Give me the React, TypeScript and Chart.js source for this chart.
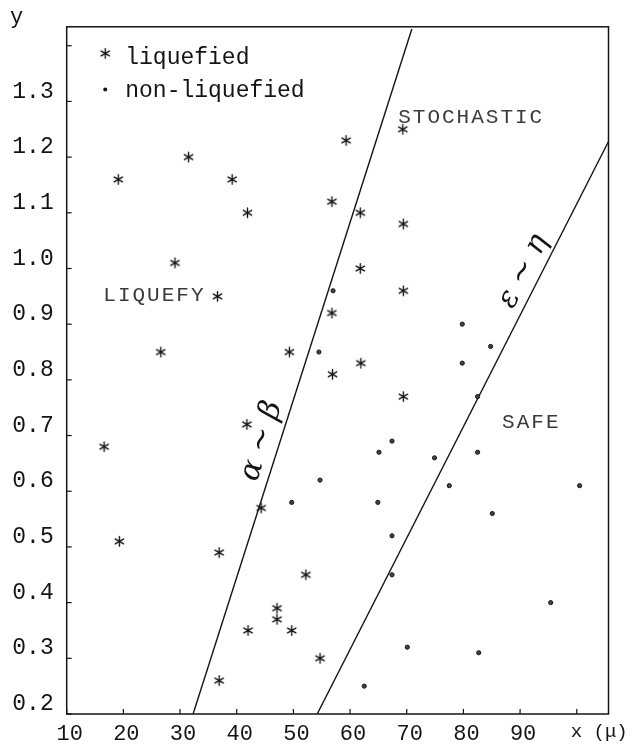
import React, { useEffect, useRef } from "react";
import { Chart, registerables } from "chart.js";
Chart.register(...registerables);

// ---- data ----
const liquefiedX = [16.6, 19.1, 19.3, 26.6, 29.1, 31.5, 36.6, 36.9, 36.9, 39.2, 41.9, 41.8, 42.0, 44.3, 47.1, 47.1, 49.3, 49.7, 52.2, 54.7, 56.8, 56.8, 56.9, 59.3, 61.8, 61.8, 61.9, 69.3, 69.4, 69.4, 69.4];
const liquefiedY = [0.68, 1.16, 0.51, 0.85, 1.01, 1.20, 0.95, 0.49, 0.26, 1.16, 1.10, 0.72, 0.35, 0.57, 0.39, 0.37, 0.85, 0.35, 0.45, 0.30, 1.12, 0.92, 0.81, 1.23, 1.10, 1.00, 0.83, 1.25, 1.08, 0.96, 0.77];

const nonLiquefiedX = [49.7, 54.5, 54.7, 57.0, 62.5, 64.9, 65.1, 67.4, 67.4, 67.4, 70.1, 74.9, 77.5, 79.8, 79.8, 82.5, 82.5, 82.7, 84.8, 85.1, 95.4, 100.5];
const nonLiquefiedY = [0.58, 0.85, 0.62, 0.96, 0.25, 0.58, 0.67, 0.69, 0.52, 0.45, 0.32, 0.66, 0.61, 0.90, 0.83, 0.77, 0.67, 0.31, 0.86, 0.56, 0.40, 0.61];

const alphaBetaX = [32.3, 70.9];
const alphaBetaY = [0.2, 1.43];
const epsEtaX = [54.2, 105.6];
const epsEtaY = [0.2, 1.228];

const xMin = 10;
const xMax = 105.6;
const yMin = 0.2;
const yMax = 1.434;
const xTickStep = 10;
const yTickStep = 0.1;
const lastXLabel = 90;
const lastYLabel = 1.3;

const regionNames = ["LIQUEFY", "STOCHASTIC", "SAFE"];
const regionX = [25.3, 81.2, 91.8];
const regionY = [0.951, 1.271, 0.724];

const legendNames = ["liquefied", "non-liquefied"];
const legendX = [16.8, 16.8];
const legendY = [1.379, 1.318];

const lineNames = ["\u03b1 ~ \u03b2", "\u03b5 ~ \u03b7"];
const lineLabelX = [44.4, 90.6];
const lineLabelY = [0.69, 0.995];

const xAxisName = "x (\u03bc)";
const yAxisName = "y";

const FONT = "'Liberation Mono', 'DejaVu Sans Mono', monospace";
const INK = "#141414";

function makeAsterisk(): HTMLCanvasElement {
  const c = document.createElement("canvas");
  c.width = 13;
  c.height = 13;
  const g = c.getContext("2d")!;
  g.strokeStyle = INK;
  g.lineWidth = 1.4;
  g.lineCap = "round";
  const cx = 6.5, cy = 6.5, r = 4.8;
  for (const deg of [90, 30, -30]) {
    const a = (deg * Math.PI) / 180;
    g.beginPath();
    g.moveTo(cx - r * Math.cos(a), cy - r * Math.sin(a));
    g.lineTo(cx + r * Math.cos(a), cy + r * Math.sin(a));
    g.stroke();
  }
  return c;
}

export default function App() {
  const ref = useRef<HTMLCanvasElement | null>(null);

  useEffect(() => {
    const canvas = ref.current!;
    const star = makeAsterisk();

    const decor = {
      id: "decor",
      afterDraw(chart: any) {
        const ctx = chart.ctx as CanvasRenderingContext2D;
        const { left, right, top, bottom } = chart.chartArea;
        const xs = chart.scales.x;
        const ys = chart.scales.y;
        ctx.save();
        // frame
        ctx.strokeStyle = INK;
        ctx.lineWidth = 1.5;
        ctx.strokeRect(left, top, right - left, bottom - top);
        // inward ticks
        ctx.lineWidth = 1.2;
        xs.ticks.forEach((t: any) => {
          const px = xs.getPixelForValue(t.value);
          ctx.beginPath();
          ctx.moveTo(px, bottom);
          ctx.lineTo(px, bottom - 5);
          ctx.stroke();
        });
        ys.ticks.forEach((t: any) => {
          const py = ys.getPixelForValue(t.value);
          ctx.beginPath();
          ctx.moveTo(left, py);
          ctx.lineTo(left + 5, py);
          ctx.stroke();
        });
        // region labels
        ctx.fillStyle = "#3a3a3a";
        ctx.font = "21px " + FONT;
        (ctx as any).letterSpacing = "2px";
        ctx.textAlign = "center";
        ctx.textBaseline = "middle";
        regionNames.forEach((n, i) => {
          ctx.fillText(n, xs.getPixelForValue(regionX[i]) + 1, ys.getPixelForValue(regionY[i]));
        });
        (ctx as any).letterSpacing = "0px";
        // legend
        ctx.fillStyle = INK;
        ctx.font = "23px " + FONT;
        ctx.textAlign = "left";
        legendNames.forEach((n, i) => {
          const px = xs.getPixelForValue(legendX[i]);
          const py = ys.getPixelForValue(legendY[i]);
          if (i === 0) {
            ctx.drawImage(star, px - 6.5, py - 10.5);
          } else {
            ctx.beginPath();
            ctx.arc(px, py - 2, 2, 0, Math.PI * 2);
            ctx.fill();
          }
          ctx.fillText(n, px + 20, py);
        });
        // axis names
        ctx.font = "22px " + FONT;
        ctx.textAlign = "center";
        ctx.fillText(yAxisName, left - 50, top - 10);
        ctx.textAlign = "left";
        ctx.font = "19px " + FONT;
        ctx.fillText(xAxisName, xs.getPixelForValue(100) - 6, bottom + 18);
        // handwritten line labels
        ctx.font = "italic 30px 'DejaVu Serif', serif";
        ctx.textAlign = "center";
        const angles = [
          Math.atan2(
            ys.getPixelForValue(alphaBetaY[1]) - ys.getPixelForValue(alphaBetaY[0]),
            xs.getPixelForValue(alphaBetaX[1]) - xs.getPixelForValue(alphaBetaX[0])
          ),
          Math.atan2(
            ys.getPixelForValue(epsEtaY[1]) - ys.getPixelForValue(epsEtaY[0]),
            xs.getPixelForValue(epsEtaX[1]) - xs.getPixelForValue(epsEtaX[0])
          ),
        ];
        lineNames.forEach((n, i) => {
          ctx.save();
          ctx.translate(xs.getPixelForValue(lineLabelX[i]), ys.getPixelForValue(lineLabelY[i]));
          ctx.rotate(angles[i]);
          ctx.fillText(n, 0, 0);
          ctx.restore();
        });
        ctx.restore();
      },
    };

    const chart = new Chart(canvas, {
      type: "scatter",
      data: {
        datasets: [
          {
            label: "liquefied",
            data: liquefiedX.map((x, i) => ({ x, y: liquefiedY[i] })),
            pointStyle: star as any,
            pointRadius: 6,
            showLine: false,
          },
          {
            label: "non-liquefied",
            data: nonLiquefiedX.map((x, i) => ({ x, y: nonLiquefiedY[i] })),
            pointStyle: "circle",
            pointRadius: 2.1,
            borderWidth: 1,
            borderColor: INK,
            backgroundColor: "#444",
            showLine: false,
          },
          {
            label: "alpha-beta",
            data: alphaBetaX.map((x, i) => ({ x, y: alphaBetaY[i] })),
            showLine: true,
            pointRadius: 0,
            borderColor: INK,
            borderWidth: 1.4,
          },
          {
            label: "eps-eta",
            data: epsEtaX.map((x, i) => ({ x, y: epsEtaY[i] })),
            showLine: true,
            pointRadius: 0,
            borderColor: INK,
            borderWidth: 1.4,
          },
        ],
      },
      options: {
        animation: false,
        responsive: false,
        devicePixelRatio: 1,
        layout: { padding: { top: 19, right: 33.5, left: 0, bottom: 0 } },
        plugins: { legend: { display: false }, tooltip: { enabled: false } },
        scales: {
          x: {
            type: "linear",
            min: xMin,
            max: xMax,
            grid: { display: false, drawTicks: false },
            border: { display: false },
            ticks: {
              stepSize: xTickStep,
              includeBounds: false,
              autoSkip: false,
              maxRotation: 0,
              padding: 7,
              labelOffset: 3,
              color: INK,
              font: { family: FONT, size: 22 },
              callback: (v: any) => (Number(v) <= lastXLabel ? String(v) : ""),
            },
            afterFit: (s: any) => {
              s.height = 33;
            },
          },
          y: {
            type: "linear",
            min: yMin,
            max: yMax,
            grid: { display: false, drawTicks: false },
            border: { display: false },
            ticks: {
              stepSize: yTickStep,
              includeBounds: false,
              autoSkip: false,
              padding: 13,
              labelOffset: -10,
              color: INK,
              font: { family: FONT, size: 23 },
              callback: (v: any) => (Number(v) <= lastYLabel + 0.001 ? Number(v).toFixed(1) : ""),
            },
            afterFit: (s: any) => {
              s.width = 66.7;
            },
          },
        },
      },
      plugins: [decor],
    });
    return () => chart.destroy();
  }, []);

  return (
    <div style={{ position: "fixed", left: 0, top: 0, width: 642, height: 747, background: "#fff" }}>
      <canvas ref={ref} width={642} height={747} style={{ width: 642, height: 747, display: "block" }} />
    </div>
  );
}
